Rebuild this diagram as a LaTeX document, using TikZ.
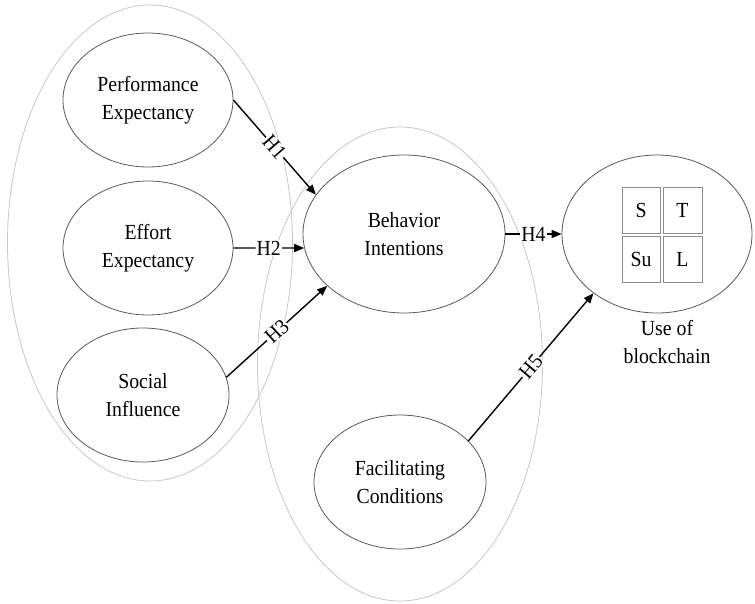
\documentclass[tikz,border=0pt]{standalone}
\usepackage{fontspec}
\setmainfont[FakeStretch=0.92]{Liberation Serif}
\usetikzlibrary{shapes.geometric,arrows.meta}
\begin{document}
\begin{tikzpicture}[x=1pt,y=-1pt,
  every node/.style={font=\fontsize{21.5}{28}\selectfont},
  latent/.style={ellipse, draw=black!65, line width=0.8pt, fill=white, inner sep=0pt, align=center},
  group/.style={ellipse, draw=black!22, line width=0.8pt, inner sep=0pt},
  box/.style={draw=black!45, line width=0.8pt, minimum width=38pt, minimum height=46pt, inner sep=0pt},
  hpath/.style={line width=1.4pt, -{Triangle[length=10pt,width=8pt]}},
  hyp/.style={fill=white, inner sep=1pt, sloped, midway}
]
\useasboundingbox (0,0) rectangle (755,603);

% grouping ellipses
\node[group, minimum width=285pt, minimum height=476pt] (gleft) at (150,243) {};
\node[group, minimum width=285pt, minimum height=474pt] (gright) at (400,364) {};

% constructs
\node[latent, minimum width=170pt, minimum height=134pt] (PE) at (148,100) {Performance\\Expectancy};
\node[latent, minimum width=170pt, minimum height=134pt] (EE) at (148,248) {Effort\\Expectancy};
\node[latent, minimum width=172pt, minimum height=134pt] (SI) at (143,395) {Social\\Influence};
\node[latent, minimum width=202pt, minimum height=158pt] (BI) at (404,234) {Behavior\\Intentions};
\node[latent, minimum width=172pt, minimum height=134pt] (FC) at (400,482) {Facilitating\\Conditions};
\node[latent, minimum width=190pt, minimum height=158pt] (UB) at (657,234) {};

% boxes inside use of blockchain
\node[box] (bS) at (641,210) {S};
\node[box, minimum width=39pt] (bT) at (682.5,210) {T};
\node[box] (bSu) at (641,259) {Su};
\node[box, minimum width=39pt] (bL) at (682.5,259) {L};

\node[align=center, inner sep=0pt] (UBlabel) at (667,342) {Use of\\blockchain};

% hypotheses
\draw[hpath] (PE.east) -- (BI.156) node[hyp] {H1};
\draw[hpath] (EE.east) -- (BI.188) node[hyp] {H2};
\draw[hpath] (SI.12) -- (BI.214) node[hyp] {H3};
\draw[hpath] (BI.east) -- (UB.west) node[hyp] {H4};
\draw[hpath] (FC.31) -- (UB.223) node[hyp] {H5};
\end{tikzpicture}
\end{document}
